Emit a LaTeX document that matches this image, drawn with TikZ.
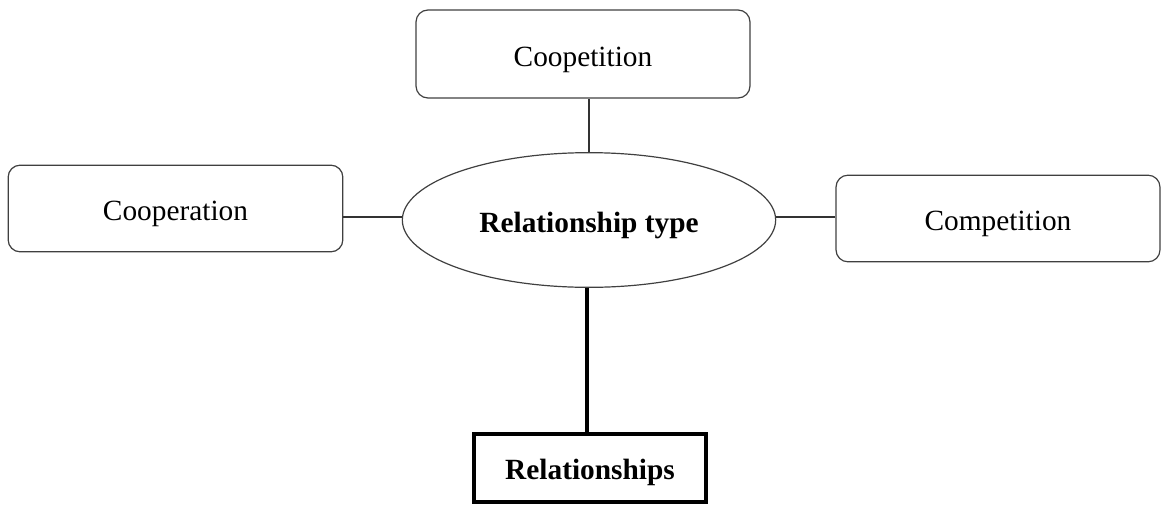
\documentclass[tikz,border=0pt]{standalone}
\usepackage{fontspec}
\setmainfont{Liberation Serif}
\usetikzlibrary{shapes.geometric}
\begin{document}
\begin{tikzpicture}[x=0.75pt,y=-0.75pt,
  every node/.style={font=\fontsize{22}{26}\selectfont, inner sep=0pt,
    text height=18pt, text depth=0pt},
  roundbox/.style={draw=black!75, line width=0.9pt, rounded corners=9pt},
  hub/.style={draw=black!75, line width=0.9pt, ellipse},
  basebox/.style={draw=black, line width=3pt},
  link/.style={draw=black!80, line width=0.9pt},
  boldlink/.style={draw=black, line width=3pt}]
\useasboundingbox (0,0) rectangle (1163,507);
\node[roundbox, minimum width=250.5pt, minimum height=66pt] (coopetition) at (583,54) {Coopetition};
\node[roundbox, minimum width=251pt, minimum height=65pt] (cooperation) at (175.5,208.5) {Cooperation};
\node[roundbox, minimum width=243pt, minimum height=65pt] (competition) at (998,218.5) {Competition};
\node[hub, minimum width=280pt, minimum height=101pt] (hub) at (589,220) {\bfseries Relationship type};
\node[basebox, minimum width=174pt, minimum height=51pt] (rel) at (590,467.5) {\bfseries Relationships};
\draw[link] (hub.north) -- (hub.north |- coopetition.south);
\draw[link] ([yshift=2.25pt]hub.west) -- ([yshift=2.25pt]hub.west -| cooperation.east);
\draw[link] ([yshift=2.25pt]hub.east) -- ([yshift=2.25pt]hub.east -| competition.west);
\draw[boldlink] ([xshift=-1.5pt]hub.south) -- ([xshift=-1.5pt]hub.south |- rel.north);
\end{tikzpicture}
\end{document}
